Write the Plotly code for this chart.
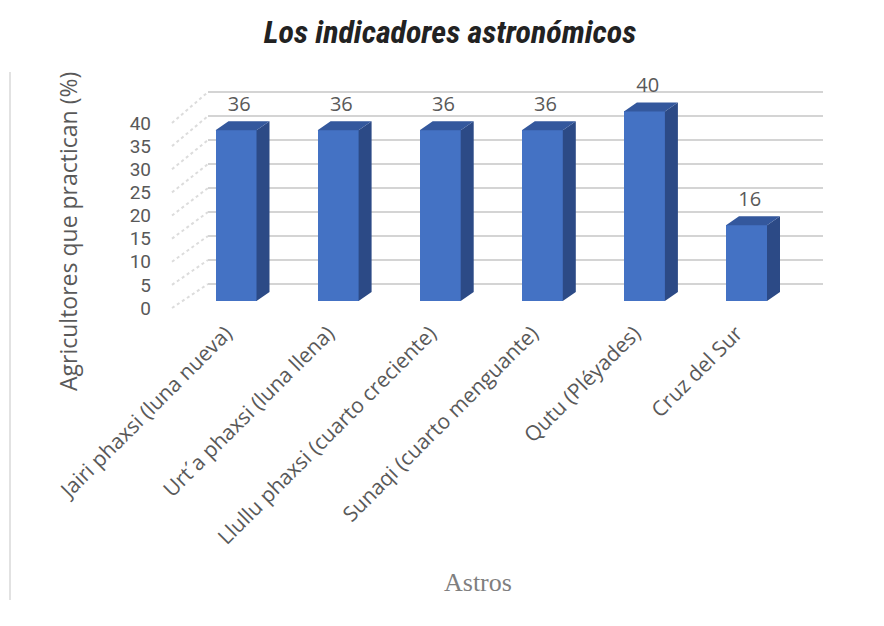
import plotly.graph_objects as go

# ---- data ----
categories = [
    "Jairi phaxsi (luna nueva)",
    "Urt\u00b4a phaxsi (luna llena)",
    "Llullu phaxsi (cuarto creciente)",
    "Sunaqi (cuarto menguante)",
    "Qutu (Pl\u00e9yades)",
    "Cruz del Sur",
]
values = [36, 36, 36, 36, 40, 16]
y_ticks = [0, 5, 10, 15, 20, 25, 30, 35, 40]

# ---- geometry of the pseudo-3D frame (pixels) ----
W, H = 884, 626
PL, PR, PT, PB = 156, 830, 66, 314          # plot area
X0_PX, X_STEP = 236.0, 102.1                # first column centre, spacing
Y0_FRONT, Y_SCALE = 301.0, 4.74             # front face of columns
Y0_LAB, LAB_SCALE = 308.0, 4.625            # front edge of the side wall
Y0_BACK, BACK_SCALE = 284.0, 4.8            # back wall
WALL_FRONT_X, WALL_BACK_X, BACK_END_X = 172, 208, 823
BAR_W_PX, DEPTH_DX, DEPTH_DY = 41, 13, 9


def xd(px):
    return (px - X0_PX) / X_STEP


def yd(px):
    return (Y0_FRONT - px) / Y_SCALE


def back_y(v):
    return yd(Y0_BACK - BACK_SCALE * v)


def lab_y(v):
    return yd(Y0_LAB - LAB_SCALE * v)


bw = BAR_W_PX / X_STEP
ddx = DEPTH_DX / X_STEP
ddy = DEPTH_DY / Y_SCALE
xs = list(range(len(categories)))

FRONT = "#4472C4"
SIDE = "#2C4A86"
TOP = "#34589D"
GRID = "#d4d4d4"
TXT = "#595959"

fig = go.Figure()

# front faces
fig.add_trace(go.Bar(
    x=xs, y=values, width=bw, marker=dict(color=FRONT, line=dict(width=0)),
    hoverinfo="skip", showlegend=False,
))

# side faces and tops
sx, sy, tx, ty = [], [], [], []
for x, v in zip(xs, values):
    r = x + bw / 2
    l = x - bw / 2
    sx += [r, r + ddx, r + ddx, r, r, None]
    sy += [0, ddy, v + ddy, v, 0, None]
    tx += [l, l + ddx, r + ddx, r, l, None]
    ty += [v, v + ddy, v + ddy, v, v, None]
fig.add_trace(go.Scatter(x=sx, y=sy, fill="toself", fillcolor=SIDE, mode="lines",
                         line=dict(width=0, color=SIDE), hoverinfo="skip", showlegend=False))
fig.add_trace(go.Scatter(x=tx, y=ty, fill="toself", fillcolor=TOP, mode="lines",
                         line=dict(width=0, color=TOP), hoverinfo="skip", showlegend=False))

# value labels
fig.add_trace(go.Scatter(
    x=[x + ddx / 4 for x in xs], y=[v + ddy + 15 / Y_SCALE for v in values],
    text=[str(v) for v in values], mode="text", textposition="middle center",
    textfont=dict(family="Open Sans", size=20, color=TXT),
    hoverinfo="skip", showlegend=False,
))

# dummy trace to activate the label axis
fig.add_trace(go.Scatter(x=[None], y=[None], yaxis="y2", showlegend=False, hoverinfo="skip"))

# back wall gridlines and side wall ticks
shapes = []
for v in y_ticks:
    shapes.append(dict(type="line", xref="x", yref="y", layer="below",
                       x0=xd(WALL_BACK_X), x1=xd(BACK_END_X), y0=back_y(v), y1=back_y(v),
                       line=dict(color=GRID, width=2)))
    shapes.append(dict(type="line", xref="x", yref="y", layer="below",
                       x0=xd(WALL_FRONT_X), x1=xd(WALL_BACK_X), y0=lab_y(v), y1=back_y(v),
                       line=dict(color="#dcdcdc", width=2, dash="dot")))
# chart frame edge
span = PR - PL
vspan = PB - PT
shapes.append(dict(type="line", xref="paper", yref="paper", layer="below",
                   x0=(10 - PL) / span, x1=(10 - PL) / span,
                   y0=(PB - 72) / vspan, y1=(PB - 600) / vspan,
                   line=dict(color="#d9d9d9", width=1.5)))

annotations = [
    dict(text="Agricultores que practican (%)", textangle=-90, showarrow=False,
         xref="paper", yref="paper", x=(68 - PL) / span, y=(PB - 231) / vspan,
         xanchor="center", yanchor="middle",
         font=dict(family="Open Sans", size=23, color=TXT)),
    dict(text="Astros", showarrow=False, xref="paper", yref="paper",
         x=(478 - PL) / span, y=(PB - 582) / vspan, xanchor="center", yanchor="middle",
         font=dict(family="Liberation Serif", size=26, color="#7f7f7f")),
]

fig.update_layout(
    width=W, height=H,
    margin=dict(l=PL, r=W - PR, t=PT, b=H - PB),
    paper_bgcolor="white", plot_bgcolor="white",
    title=dict(text="Los indicadores astron\u00f3micos", x=450 / W, xref="container",
               xanchor="center", y=1 - 32 / H, yref="container", yanchor="middle",
               font=dict(family="Roboto Condensed, Roboto",
                         size=32, color="#222222", weight="bold", style="italic")),
    xaxis=dict(range=[xd(PL), xd(PR)], tickmode="array", tickvals=xs, ticktext=categories,
               tickangle=-45, showgrid=False, zeroline=False, showline=False, ticks="",
               ticklabelshift=-10, ticklabelstandoff=2,
               tickfont=dict(family="Open Sans", size=21, color=TXT)),
    yaxis=dict(range=[yd(PB), yd(PT)], showgrid=False, zeroline=False, showline=False,
               showticklabels=False, ticks=""),
    yaxis2=dict(range=[(Y0_LAB - PB) / LAB_SCALE, (Y0_LAB - PT) / LAB_SCALE],
                overlaying="y", side="left", anchor="x", tickmode="array",
                tickvals=y_ticks, showgrid=False, zeroline=False, showline=False, ticks="",
                ticklabelstandoff=4,
                tickfont=dict(family="Roboto", size=19, color=TXT)),
    shapes=shapes,
    annotations=annotations,
    showlegend=False,
    bargap=0,
)

fig.write_html("out.html")
